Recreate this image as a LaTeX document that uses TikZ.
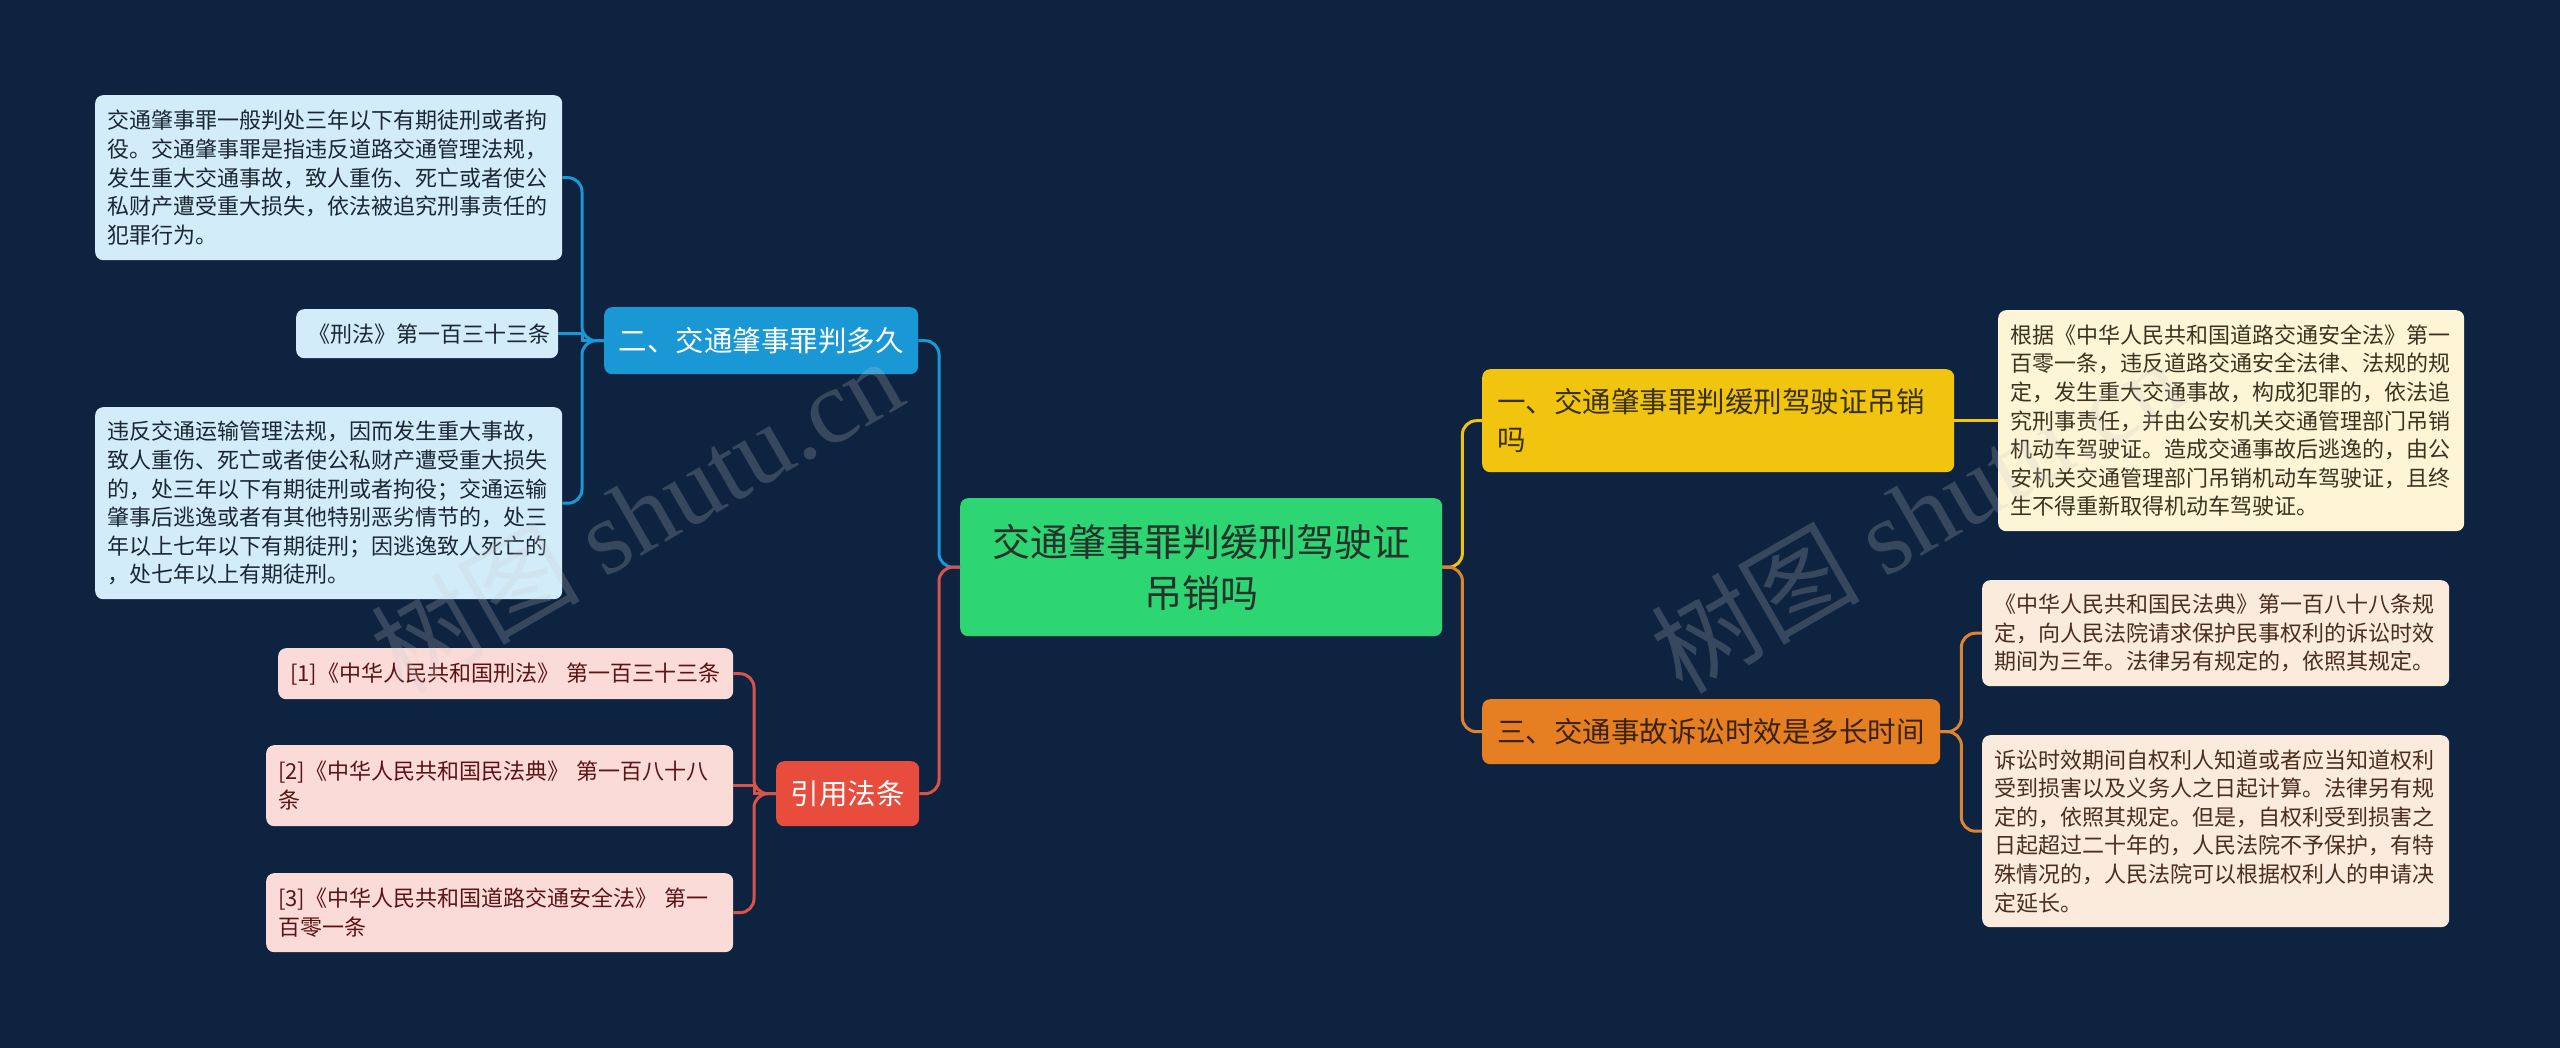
\documentclass[tikz,border=0pt]{standalone}
\usepackage{fontspec}
\newfontfamily\cjk{Noto Sans CJK SC}
\newfontfamily\wmserif{Liberation Serif}
\definecolor{bg}{HTML}{0E2340}
\definecolor{rootfill}{HTML}{2ED573}
\definecolor{roottext}{HTML}{26322A}
\definecolor{bluefill}{HTML}{1A98D6}
\definecolor{redfill}{HTML}{E74C3C}
\definecolor{redline}{HTML}{D8534A}
\definecolor{yelfill}{HTML}{F1C40F}
\definecolor{yeltext}{HTML}{3A300A}
\definecolor{orgfill}{HTML}{E67E22}
\definecolor{orgline}{HTML}{E0832F}
\definecolor{orgtext}{HTML}{3A2210}
\definecolor{lbluefill}{HTML}{D2ECF9}
\definecolor{lbluetext}{HTML}{1B2733}
\definecolor{creamfill}{HTML}{FDF5D6}
\definecolor{creamtext}{HTML}{3B3320}
\definecolor{peachfill}{HTML}{FBEBDD}
\definecolor{peachtext}{HTML}{4A2E1E}
\definecolor{pinkfill}{HTML}{FADBD8}
\definecolor{pinktext}{HTML}{5B1414}
\begin{document}
\begin{tikzpicture}[x=1pt,y=-1pt,
  box/.style={anchor=north west, rounded corners=8pt, inner xsep=12pt, inner ysep=0pt, align=left},
  leaffont/.style={font=\cjk\fontsize{22}{28.6}\selectfont},
  branchfont/.style={font=\cjk\fontsize{28.5}{38}\selectfont},
  conn/.style={line width=3pt, rounded corners=14pt},
  sharpconn/.style={line width=3pt},
  wm/.style={rotate=30, text=white!60!gray, text opacity=0.22}
]
\fill[bg] (0,0) rectangle (2560,1048);
\useasboundingbox (0,0) rectangle (2560,1048);

% root
\node[box, fill=rootfill, text=roottext, align=center, inner xsep=12pt,
  minimum width=482pt, minimum height=138pt, text width=458pt,
  font=\cjk\fontsize{38}{51}\selectfont] (root) at (960,498)
  {交通肇事罪判缓刑驾驶证\\吊销吗};

% left branches
\node[box, branchfont, fill=bluefill, text=white, align=center,
  minimum width=314pt, minimum height=67pt, text width=290pt] (blue) at (604,307)
  {二、交通肇事罪判多久};
\node[box, branchfont, fill=redfill, text=white, align=center,
  minimum width=143pt, minimum height=65pt, text width=119pt] (red) at (776,761)
  {引用法条};

% right branches
\node[box, branchfont, fill=yelfill, text=yeltext, inner xsep=15pt,
  minimum width=472pt, minimum height=103pt, text width=442pt] (yellow) at (1482,369)
  {一、交通肇事罪判缓刑驾驶证吊销\\吗};
\node[box, branchfont, fill=orgfill, text=orgtext, align=center,
  minimum width=458pt, minimum height=65pt, text width=434pt] (orange) at (1482,699)
  {三、交通事故诉讼时效是多长时间};

% blue leaves
\node[box, leaffont, fill=lbluefill, text=lbluetext,
  minimum width=467pt, minimum height=165pt, text width=443pt] (leafA) at (95,95)
  {交通肇事罪一般判处三年以下有期徒刑或者拘\\役。交通肇事罪是指违反道路交通管理法规，\\发生重大交通事故，致人重伤、死亡或者使公\\私财产遭受重大损失，依法被追究刑事责任的\\犯罪行为。};
\node[box, leaffont, fill=lbluefill, text=lbluetext, align=center,
  minimum width=262pt, minimum height=49pt, text width=238pt] (leafB) at (296,309)
  {《刑法》第一百三十三条};
\node[box, leaffont, fill=lbluefill, text=lbluetext,
  minimum width=467pt, minimum height=192pt, text width=443pt] (leafC) at (95,407)
  {违反交通运输管理法规，因而发生重大事故，\\致人重伤、死亡或者使公私财产遭受重大损失\\的，处三年以下有期徒刑或者拘役；交通运输\\肇事后逃逸或者有其他特别恶劣情节的，处三\\年以上七年以下有期徒刑；因逃逸致人死亡的\\，处七年以上有期徒刑。};

% reference leaves
\node[box, leaffont, fill=pinkfill, text=pinktext,
  minimum width=455pt, minimum height=51pt, text width=431pt] (ref1) at (278,648)
  {[1]《中华人民共和国刑法》 第一百三十三条};
\node[box, leaffont, fill=pinkfill, text=pinktext,
  minimum width=467pt, minimum height=81pt, text width=443pt] (ref2) at (266,745)
  {[2]《中华人民共和国民法典》 第一百八十八\\条};
\node[box, leaffont, fill=pinkfill, text=pinktext,
  minimum width=467pt, minimum height=79pt, text width=443pt] (ref3) at (266,873)
  {[3]《中华人民共和国道路交通安全法》 第一\\百零一条};

% yellow leaf
\node[box, leaffont, fill=creamfill, text=creamtext,
  minimum width=466pt, minimum height=221pt, text width=442pt] (yleaf) at (1998,310)
  {根据《中华人民共和国道路交通安全法》第一\\百零一条，违反道路交通安全法律、法规的规\\定，发生重大交通事故，构成犯罪的，依法追\\究刑事责任，并由公安机关交通管理部门吊销\\机动车驾驶证。造成交通事故后逃逸的，由公\\安机关交通管理部门吊销机动车驾驶证，且终\\生不得重新取得机动车驾驶证。};

% orange leaves
\node[box, leaffont, fill=peachfill, text=peachtext,
  minimum width=467pt, minimum height=106pt, text width=443pt] (oleaf1) at (1982,580)
  {《中华人民共和国民法典》第一百八十八条规\\定，向人民法院请求保护民事权利的诉讼时效\\期间为三年。法律另有规定的，依照其规定。};
\node[box, leaffont, fill=peachfill, text=peachtext,
  minimum width=467pt, minimum height=192pt, text width=443pt] (oleaf2) at (1982,735)
  {诉讼时效期间自权利人知道或者应当知道权利\\受到损害以及义务人之日起计算。法律另有规\\定的，依照其规定。但是，自权利受到损害之\\日起超过二十年的，人民法院不予保护，有特\\殊情况的，人民法院可以根据权利人的申请决\\定延长。};

% connectors: root to branches
\draw[conn, bluefill] (root.west) -- ++(-21,0) |- (blue.east);
\draw[conn, redline] (root.west) -- ++(-21,0) |- (red.east);
\draw[conn, yelfill] (root.east) -- ++(20,0) |- (yellow.west);
\draw[conn, orgline] (root.east) -- ++(20,0) |- (orange.west);

% blue branch to leaves
\draw[conn, bluefill] (blue.west) -- ++(-22,0) |- (leafA.east);
\draw[sharpconn, bluefill] (blue.west) -- ++(-22,0) |- (leafB.east);
\draw[conn, bluefill] (blue.west) -- ++(-22,0) |- (leafC.east);

% red branch to refs
\draw[conn, redline] (red.west) -- ++(-22,0) |- (ref1.east);
\draw[sharpconn, redline] (red.west) -- ++(-22,0) |- (ref2.east);
\draw[conn, redline] (red.west) -- ++(-22,0) |- (ref3.east);

% yellow
\draw[sharpconn, yelfill] (yellow.east) -- (yleaf.west);

% orange
\draw[conn, orgline] (orange.east) -- ++(21,0) |- (oleaf1.west);
\draw[conn, orgline] (orange.east) -- ++(21,0) |- (oleaf2.west);

% watermarks
\node[wm] (wm1) at (636,514) {\cjk\fontsize{105}{110}\selectfont 树图 \wmserif shutu.cn};
\node[wm] (wm2) at (1916,514) {\cjk\fontsize{105}{110}\selectfont 树图 \wmserif shutu.cn};
\end{tikzpicture}
\end{document}
